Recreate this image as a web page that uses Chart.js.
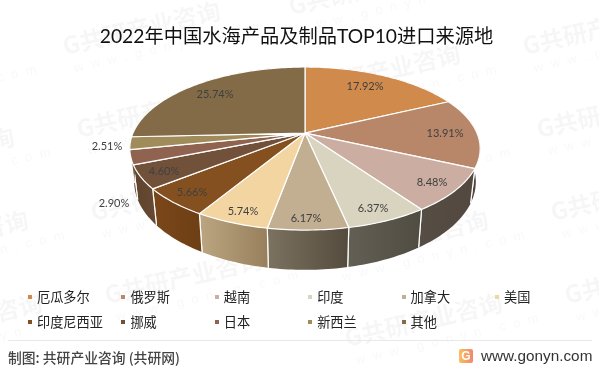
<!DOCTYPE html>
<html>
<head>
<meta charset="utf-8">
<style>
  html, body { margin: 0; padding: 0; background: #fff; }
  #wrap { position: relative; width: 599px; height: 374px; overflow: hidden; font-family: "Noto Sans CJK SC", sans-serif; }
  #pie { position: absolute; left: 0; top: 0; }
  .legend-item { position: absolute; font-size: 13.2px; line-height: 16px; color: #222; white-space: nowrap; }
  .legend-item i { position: absolute; left: -9px; top: 6px; width: 4px; height: 4px; }
  #rule { position: absolute; left: 8px; top: 340px; width: 584px; height: 1px; background: #e8e8e8; }
  #source { position: absolute; left: 8px; top: 348px; font-size: 13.8px; line-height: 18px; color: #444; font-weight: 500; }
  #logo { position: absolute; left: 459px; top: 349px; width: 14px; height: 14px; border-radius: 2px; background: linear-gradient(90deg, #f8c15c, #f2866e); color: #fff; font: bold 12px/14px "Liberation Sans", sans-serif; text-align: center; }
  #site { position: absolute; left: 481px; top: 347px; font: 15.3px/18px "Liberation Sans", sans-serif; color: #333; }
</style>
</head>
<body>
<div id="wrap">
  <canvas id="pie" width="599" height="374"></canvas>
  <div id="rule"></div>
  <div id="source">制图: 共研产业咨询 (共研网)</div>
  <div id="logo">G</div>
  <div id="site">www.gonyn.com</div>
</div>
<script src="https://cdn.jsdelivr.net/npm/chart.js@4"></script>
<script>
const titleText = '2022年中国水海产品及制品TOP10进口来源地';
const categories = ['厄瓜多尔', '俄罗斯', '越南', '印度', '加拿大', '美国', '印度尼西亚', '挪威', '日本', '新西兰', '其他'];
const shares = [17.92, 13.91, 8.48, 6.37, 6.17, 5.74, 5.66, 4.60, 2.90, 2.51, 25.74];

const topColors = ['#d08a4c', '#b8876a', '#cbada1', '#d8d4c0', '#c2ae91', '#f3d5a2', '#84501f', '#72513a', '#8f634f', '#a08c5a', '#836b47'];
const wallLeft = ['#5f5145', '#5f5145', '#564d45', '#625f55', '#7c7260', '#bba681', '#7a4719', '#5f432c', '#6b4a38', '#6b5c3c', '#574730'];
const wallRight = ['#4f4239', '#4f4239', '#524840', '#504c42', '#554b3d', '#987f5c', '#6d3f15', '#674a32', '#6b4a38', '#6b5c3c', '#574730'];

// label centres, two of them sit outside the pie
const labelPos = [[365, 86], [445, 133], [432, 182], [373, 208], [306, 218], [243, 211], [192, 192], [164, 171], [114, 203], [107, 146], [215, 94]];

const watermarks = [
    [65, 55], [79, 138], [93, 221], [107, 304],
    [525, 55], [539, 138], [553, 221], [567, 304],
    [291, 15], [305, 98], [319, 181], [333, 264], [347, 347],
    [-169, 15], [-155, 98], [-141, 181], [-127, 264], [-113, 347]
];

// perspective of the tilted disc
const shiftX = 8.5;     // title is centred a little left of the pie
const radiusX = 172;
const radiusY = 78.6;
const tilt = 0.19;
const wallDrop = 32;
const wallStretch = 1.08;
const wallNarrow = 0.975;

function project(arc, angle) {
    const u = Math.cos(angle);
    const v = Math.sin(angle);
    const w = 1 - tilt * v;
    return { x: arc.x + shiftX + radiusX * u / w, y: arc.y + radiusY * v / w };
}

function toBottom(arc, p) {
    return {
        x: arc.x + shiftX + (p.x - arc.x - shiftX) * wallNarrow,
        y: arc.y + (p.y - arc.y) * wallStretch + wallDrop
    };
}

function rimPoints(arc) {
    const steps = Math.max(4, Math.ceil((arc.endAngle - arc.startAngle) / 0.02));
    const pts = [];
    for (let i = 0; i <= steps; i++) {
        pts.push(project(arc, arc.startAngle + (arc.endAngle - arc.startAngle) * i / steps));
    }
    return pts;
}

const pie3d = {
    id: 'pie3d',
    beforeDraw(chart) {
        const ctx = chart.ctx;
        ctx.save();
        watermarks.forEach(m => {
            ctx.save();
            ctx.translate(m[0], m[1]);
            ctx.rotate(-13 * Math.PI / 180);
            ctx.fillStyle = 'rgba(0,0,0,0.035)';
            ctx.font = 'bold 24px "Noto Sans CJK SC"';
            ctx.fillText('G共研产业咨询', 0, 0);
            ctx.fillStyle = 'rgba(0,0,0,0.03)';
            ctx.font = '13px "Liberation Sans"';
            ctx.letterSpacing = '2px';
            ctx.fillText('w w w . g o n y n . c o m', 6, 19);
            ctx.restore();
        });
        ctx.restore();
    },
    beforeDatasetDraw(chart, args) {
        const ctx = chart.ctx;
        const arcs = args.meta.data;

        // walls first, the top face hides whatever is behind it
        arcs.forEach((arc, i) => {
            const pts = rimPoints(arc);
            const low = pts.map(p => toBottom(arc, p));
            const xs = pts.concat(low).map(p => p.x);
            const grad = ctx.createLinearGradient(Math.min(...xs), 0, Math.max(...xs), 0);
            grad.addColorStop(0, wallLeft[i]);
            grad.addColorStop(1, wallRight[i]);
            ctx.beginPath();
            pts.forEach((p, k) => k ? ctx.lineTo(p.x, p.y) : ctx.moveTo(p.x, p.y));
            low.slice().reverse().forEach(p => ctx.lineTo(p.x, p.y));
            ctx.closePath();
            ctx.fillStyle = grad;
            ctx.fill();
            ctx.strokeStyle = '#fff';
            ctx.lineWidth = 1.2;
            ctx.beginPath();
            ctx.moveTo(pts[0].x, pts[0].y);
            ctx.lineTo(low[0].x, low[0].y);
            ctx.moveTo(pts[pts.length - 1].x, pts[pts.length - 1].y);
            ctx.lineTo(low[low.length - 1].x, low[low.length - 1].y);
            ctx.stroke();
        });

        arcs.forEach((arc, i) => {
            const pts = rimPoints(arc);
            ctx.beginPath();
            ctx.moveTo(arc.x + shiftX, arc.y);
            pts.forEach(p => ctx.lineTo(p.x, p.y));
            ctx.closePath();
            ctx.fillStyle = topColors[i];
            ctx.fill();
            ctx.strokeStyle = '#fff';
            ctx.lineWidth = 1.2;
            ctx.lineJoin = 'round';
            ctx.stroke();
        });

        ctx.fillStyle = '#404040';
        ctx.font = '11px Lato';
        ctx.textAlign = 'center';
        ctx.textBaseline = 'middle';
        shares.forEach((s, i) => ctx.fillText(s.toFixed(2) + '%', labelPos[i][0], labelPos[i][1]));
        return false;
    }
};

new Chart(document.querySelector('#pie').getContext('2d'), {
    type: 'pie',
    data: {
        labels: categories,
        datasets: [{ data: shares, backgroundColor: topColors, borderColor: '#fff' }]
    },
    plugins: [pie3d],
    options: {
        responsive: false,
        animation: false,
        layout: { padding: { right: 6, bottom: 158 } },
        plugins: {
            legend: { display: false },
            tooltip: { enabled: false },
            title: {
                display: true,
                text: titleText,
                color: '#111',
                font: { family: '"Lato", "Noto Sans CJK SC"', size: 19.25, weight: 'normal' },
                padding: { top: 25, bottom: 2 }
            }
        }
    }
});

// six columns, two rows
const wrap = document.querySelector('#wrap');
categories.forEach((name, i) => {
    const item = document.createElement('div');
    item.className = 'legend-item';
    item.style.left = (37 + (i % 6) * 93.4) + 'px';
    item.style.top = (289 + Math.floor(i / 6) * 24.5) + 'px';
    item.textContent = name;
    const box = document.createElement('i');
    box.style.background = topColors[i];
    item.appendChild(box);
    wrap.appendChild(item);
});
</script>
</body>
</html>
